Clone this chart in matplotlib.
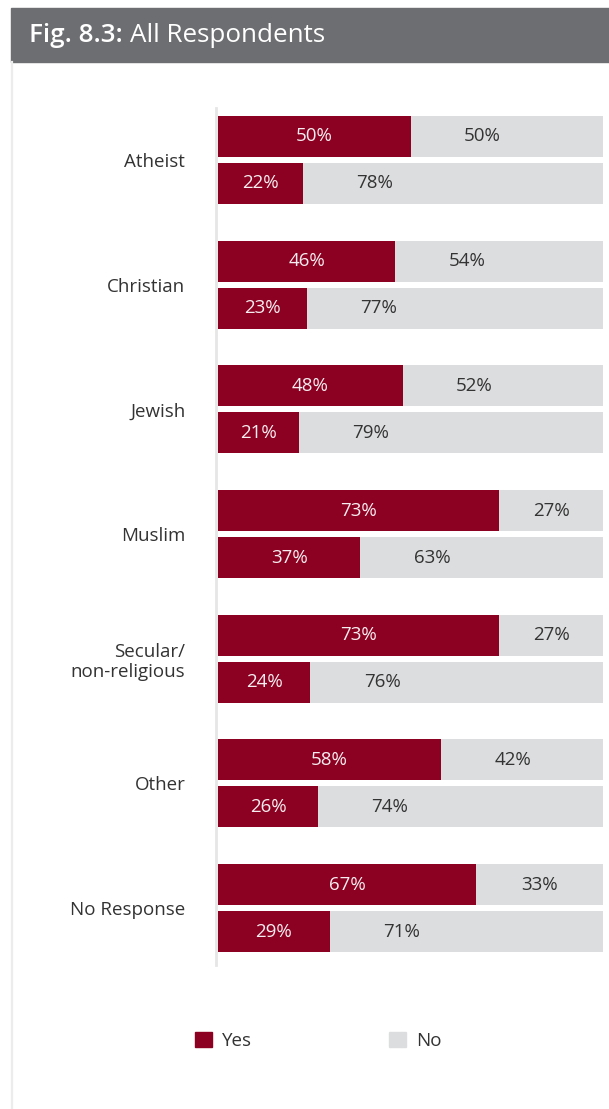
import matplotlib.pyplot as plt
from matplotlib.patches import Patch, Rectangle
from matplotlib.lines import Line2D

plt.rcParams['font.family'] = ['Open Sans', 'DejaVu Sans']

categorias = ['Atheist', 'Christian', 'Jewish', 'Muslim',
              'Secular/\nnon-religious', 'Other', 'No Response']
sim_cima = [50, 46, 48, 73, 73, 58, 67]
nao_cima = [50, 54, 52, 27, 27, 42, 33]
sim_baixo = [22, 23, 21, 37, 24, 26, 29]
nao_baixo = [78, 77, 79, 63, 76, 74, 71]

VERMELHO = '#8c0022'
CINZA = '#dcdddf'
TEXTO = '#333333'
W, H = 609, 1109
FONTE = 13.5


def rotular(ax, y, sim, nao):
    ax.text(sim / 2, y, f'{sim}%', ha='center', va='center',
            color='#f6eef0', fontsize=FONTE)
    ax.text(sim + min(nao / 2, 18.6), y, f'{nao}%', ha='center',
            va='center', color=TEXTO, fontsize=FONTE)


fig = plt.figure(figsize=(W / 100, H / 100), dpi=100)

# cabeçalho e borda
fig.patches.append(Rectangle((11 / W, 1 - 62 / H), 1 - 11 / W, 54 / H,
                             transform=fig.transFigure, color='#6d6e71'))
fig.lines.append(Line2D([12 / W, 12 / W], [0, 1 - 62 / H],
                        transform=fig.transFigure, color='#ececec', lw=1.6))

t1 = fig.text(29 / W, 1 - 36 / H, 'Fig. 8.3:', color='white', fontsize=18.7,
              fontweight='semibold', va='center')
fig.canvas.draw()
bb = t1.get_window_extent()
fig.text(bb.x1 / W + 7 / W, 1 - 36 / H, 'All Respondents', color='white',
         fontsize=18.7, va='center')

ax = fig.add_axes([218 / W, 1 - 965 / H, 385 / W, 857 / H])
ax.set_xlim(0, 100)
ax.set_ylim(6.457, -0.417)

pos = list(range(len(categorias)))
y1 = [p - 0.1885 for p in pos]
y2 = [p + 0.1885 for p in pos]
alt = 0.329

ax.barh(y1, sim_cima, height=alt, color=VERMELHO)
ax.barh(y1, nao_cima, left=sim_cima, height=alt, color=CINZA)
ax.barh(y2, sim_baixo, height=alt, color=VERMELHO)
ax.barh(y2, nao_baixo, left=sim_baixo, height=alt, color=CINZA)

for i in pos:
    rotular(ax, y1[i], sim_cima[i], nao_cima[i])
    rotular(ax, y2[i], sim_baixo[i], nao_baixo[i])

ax.tick_params(axis='y', length=0, pad=22, labelsize=FONTE, labelcolor=TEXTO)
ax.set_yticks(pos)
ax.set_yticklabels(categorias, linespacing=1.25)
ax.set_xticks([])
for lado in ['top', 'right', 'bottom']:
    ax.spines[lado].set_visible(False)
ax.spines['left'].set_color('#e6e6e6')
ax.spines['left'].set_linewidth(2)
ax.spines['left'].set_position(('outward', 1.5))

fig.legend(handles=[Patch(color=VERMELHO, label='Yes'),
                    Patch(color=CINZA, label='No')],
           loc='center left', bbox_to_anchor=(195 / W, 1 - 1041 / H),
           ncol=2, frameon=False, fontsize=FONTE, handlelength=0.9,
           handleheight=0.85, handletextpad=0.55, columnspacing=7.3,
           borderpad=0, borderaxespad=0, labelcolor=TEXTO)

fig.savefig('out.png', dpi=100, facecolor='white')
